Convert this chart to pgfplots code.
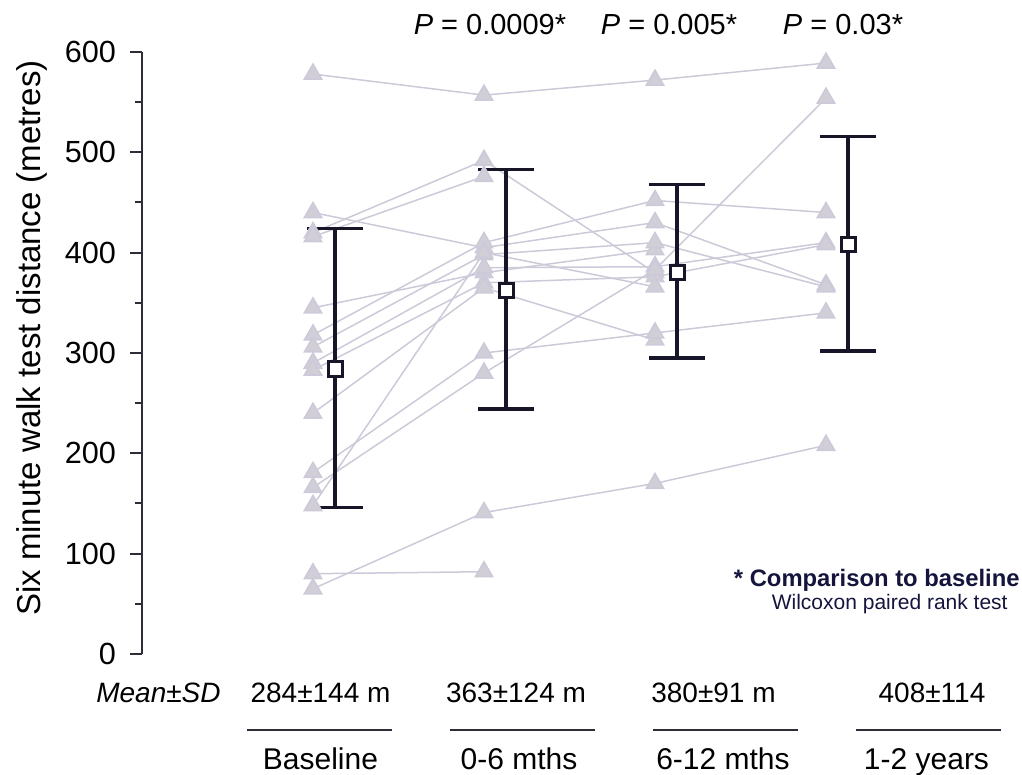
\documentclass[border=0pt]{standalone}
\usepackage{pgfplots}
\pgfplotsset{compat=1.18}
\usepackage{fontspec}
\setmainfont{Liberation Sans}
\definecolor{tri}{RGB}{210,206,216}
\definecolor{linec}{RGB}{204,202,216}
\definecolor{barc}{RGB}{22,22,40}
\definecolor{axc}{RGB}{45,45,55}
\definecolor{notec}{RGB}{20,20,60}
\begin{document}
\begin{tikzpicture}
\begin{axis}[name=ax, at={(0,0)}, anchor=south west,
  scale only axis, width=393.3pt, height=301pt,
  xmin=-1, xmax=3.6, ymin=0, ymax=600, clip=false,
  axis x line=none, axis y line=left,
  axis line style={-, line width=1pt, color=axc},
  ytick={0,100,...,600}, minor ytick={50,150,...,550},
  tick align=outside, major tick length=6pt, minor tick length=3.5pt,
  tick style={line width=1pt, color=axc},
  yticklabel style={font=\fontsize{15.3}{18}\selectfont, text=black, xshift=-3.5pt},
  /pgf/number format/assume math mode=true,
  pat/.style={color=linec, line width=0.75pt, mark=triangle*, mark size=5pt, mark options={fill=tri, draw=none}},
]
\addplot[pat] coordinates {(0,578)(1,557)(2,572)(3,589)};
\addplot[pat] coordinates {(0,440)(1,405)(2,430)(3,368)};
\addplot[pat] coordinates {(0,420)(1,492)(2,380)};
\addplot[pat] coordinates {(0,416)(1,476)};
\addplot[pat] coordinates {(0,345)(1,380)(2,403)};
\addplot[pat] coordinates {(0,318)(1,410)(2,452)(3,440)};
\addplot[pat] coordinates {(0,306)(1,398)(2,410)(3,366)};
\addplot[pat] coordinates {(0,290)(1,385)(2,386)(3,410)};
\addplot[pat] coordinates {(0,283)(1,370)(2,376)(3,408)};
\addplot[pat] coordinates {(0,240)(1,365)(2,313)};
\addplot[pat] coordinates {(0,181)(1,300)(2,320)(3,340)};
\addplot[pat] coordinates {(0,166)(1,280)(2,383)(3,554)};
\addplot[pat] coordinates {(0,148)(1,400)(2,366)};
\addplot[pat] coordinates {(0,80)(1,82)};
\addplot[pat] coordinates {(0,65)(1,141)(2,170)(3,208)};
% error bars
\addplot[only marks, mark=none,
  error bars/.cd, y dir=both, y explicit, error mark=|,
  error bar style={line width=1.75pt, draw=barc},
  error mark options={line width=1.75pt, mark size=14pt, draw=barc}]
  coordinates {
  (0.13,284) += (0,140) -= (0,138)
  (1.13,362) += (0,121) -= (0,118)
  (2.13,380) += (0,88) -= (0,85)
  (3.13,408) += (0,108) -= (0,106)
  };
\addplot[only marks, mark=square*, mark size=3.6pt, mark options={fill=white, draw=barc, line width=1.5pt}]
  coordinates {(0.13,284)(1.13,362)(2.13,380)(3.13,408)};
\end{axis}
\coordinate (O) at (ax.south west);
% y label
\node[rotate=90, font=\fontsize{16.5}{19}\selectfont] at ([shift={(-55pt,158pt)}]O) {Six minute walk test distance (metres)};
% P values
\begin{scope}[every node/.style={anchor=base, font=\fontsize{14.5}{17}\selectfont, inner sep=0pt}]
\node at ([shift={(174pt,309.5pt)}]O) {\textit{P} = 0.0009*};
\node at ([shift={(263.5pt,309.5pt)}]O) {\textit{P} = 0.005*};
\node at ([shift={(350.5pt,309.5pt)}]O) {\textit{P} = 0.03*};
\end{scope}
% note
\node[anchor=base east, inner sep=0pt, text=notec, font=\fontsize{11.9}{14}\selectfont\bfseries] at ([shift={(439pt,33.5pt)}]O) {* Comparison to baseline};
\node[anchor=base east, inner sep=0pt, text=notec, font=\fontsize{10.5}{12}\selectfont] at ([shift={(433pt,22pt)}]O) {Wilcoxon paired rank test};
% bottom table
\begin{scope}[every node/.style={anchor=base, font=\fontsize{14}{17}\selectfont, inner sep=0pt}]
\node at ([shift={(8.25pt,-24.5pt)}]O) {\textit{Mean±SD}};
\node at ([shift={(89.25pt,-24.5pt)}]O) {284±144 m};
\node at ([shift={(187pt,-24.5pt)}]O) {363±124 m};
\node at ([shift={(285.75pt,-24.5pt)}]O) {380±91 m};
\node at ([shift={(395pt,-24.5pt)}]O) {408±114};
\end{scope}
\begin{scope}[line width=1pt, draw=axc]
\draw[axc] ([shift={(52.5pt,-38pt)}]O) -- ++(72.5pt,0);
\draw[axc] ([shift={(154pt,-38pt)}]O) -- ++(72.5pt,0);
\draw[axc] ([shift={(255.5pt,-38pt)}]O) -- ++(72.5pt,0);
\draw[axc] ([shift={(357pt,-38pt)}]O) -- ++(72.5pt,0);
\end{scope}
\begin{scope}[every node/.style={anchor=base, font=\fontsize{15}{18}\selectfont, inner sep=0pt}]
\node at ([shift={(89.25pt,-58pt)}]O) {Baseline};
\node at ([shift={(188.5pt,-58pt)}]O) {0-6 mths};
\node at ([shift={(290.5pt,-58pt)}]O) {6-12 mths};
\node at ([shift={(392.25pt,-58pt)}]O) {1-2 years};
\end{scope}
\pgfresetboundingbox
\path[use as bounding box] ([shift={(-71pt,-60.5pt)}]O) rectangle ([shift={(440pt,327pt)}]O);
\end{tikzpicture}
\end{document}
